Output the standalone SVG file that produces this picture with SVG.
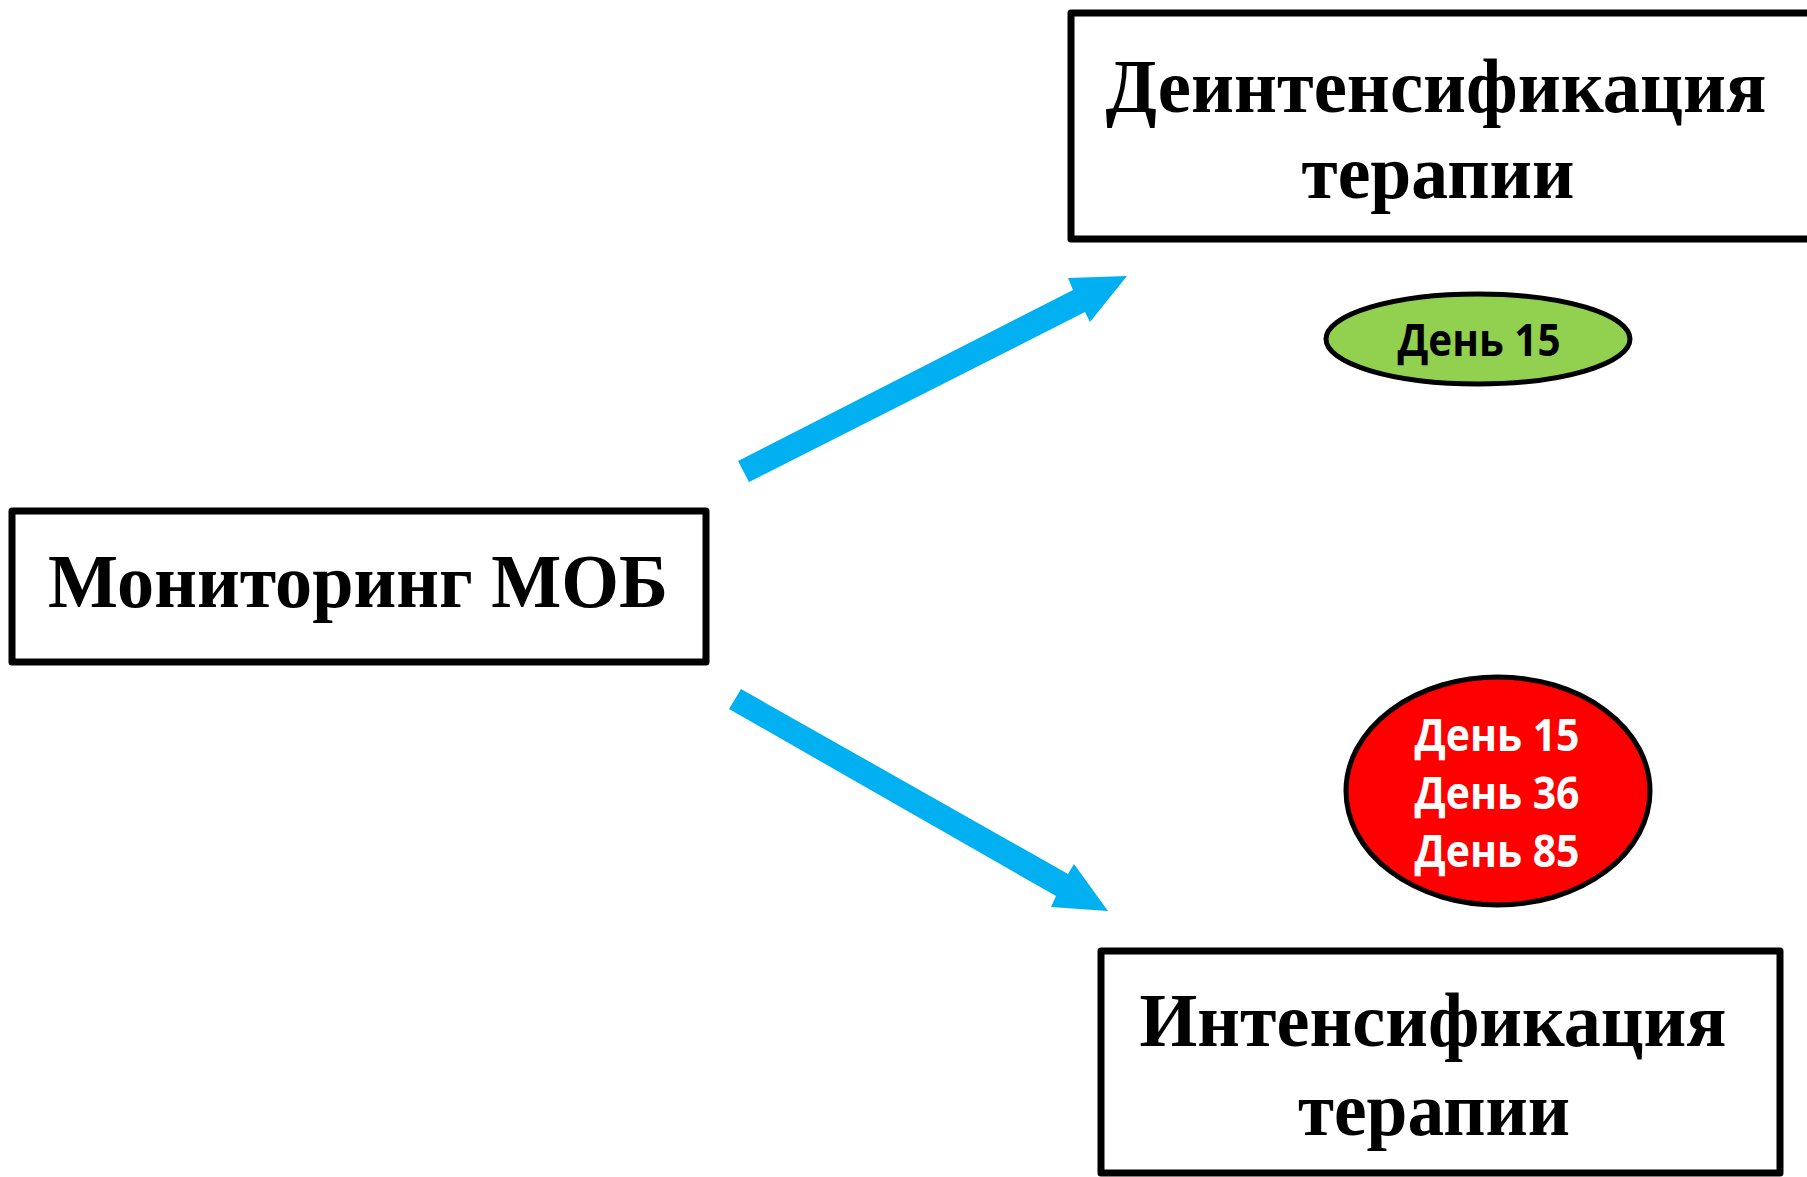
<svg xmlns="http://www.w3.org/2000/svg" width="1807" height="1177" viewBox="0 0 1807 1177">
  <style>
    .box { fill: #ffffff; stroke: #000000; stroke-width: 7; stroke-linejoin: round; }
    .title { font-family: "Liberation Serif", "Times New Roman", serif; font-weight: bold; fill: #000000; text-anchor: middle; }
    .day { font-family: "Open Sans", "Noto Sans", "Liberation Sans", sans-serif; font-weight: bold; text-anchor: middle; font-size: 44px; }
    .arrow { fill: #00B0F0; }
  </style>
  <rect width="1807" height="1177" fill="#ffffff"/>

  <!-- connectors -->
  <g id="connectors">
    <polygon class="arrow" points="738,461 1073,290 1068,278 1127,276 1090,322 1085,312 749,482"/>
    <polygon class="arrow" points="741,689 1068,874 1074,864 1108,911 1051,907 1056,896 729,709"/>
  </g>

  <!-- source -->
  <g id="node-monitoring">
    <rect class="box" x="12" y="511" width="694" height="151"/>
    <text class="title" x="358" y="607" font-size="76" textLength="620" lengthAdjust="spacingAndGlyphs">Мониторинг МОБ</text>
  </g>

  <!-- upper outcome -->
  <g id="node-deintensification">
    <rect class="box" x="1071" y="13" width="760" height="226"/>
    <text class="title" x="1436" y="112" font-size="76" textLength="661" lengthAdjust="spacingAndGlyphs">Деинтенсификация</text>
    <text class="title" x="1438" y="198" font-size="76" textLength="273" lengthAdjust="spacingAndGlyphs">терапии</text>
  </g>

  <g id="node-day-green">
    <ellipse cx="1478" cy="339" rx="152" ry="45" fill="#92D050" stroke="#000000" stroke-width="5"/>
    <text class="day" x="1479" y="356" fill="#000000" textLength="163" lengthAdjust="spacingAndGlyphs">День 15</text>
  </g>

  <!-- lower outcome -->
  <g id="node-day-red">
    <ellipse cx="1498" cy="791" rx="152" ry="114" fill="#FF0000" stroke="#000000" stroke-width="5"/>
    <text class="day" x="1497" y="751" fill="#ffffff" textLength="165" lengthAdjust="spacingAndGlyphs">День 15</text>
    <text class="day" x="1497" y="809" fill="#ffffff" textLength="165" lengthAdjust="spacingAndGlyphs">День 36</text>
    <text class="day" x="1497" y="867" fill="#ffffff" textLength="165" lengthAdjust="spacingAndGlyphs">День 85</text>
  </g>

  <g id="node-intensification">
    <rect class="box" x="1101" y="951" width="679" height="222"/>
    <text class="title" x="1433" y="1046" font-size="76" textLength="587" lengthAdjust="spacingAndGlyphs">Интенсификация</text>
    <text class="title" x="1434" y="1135" font-size="76" textLength="272" lengthAdjust="spacingAndGlyphs">терапии</text>
  </g>
</svg>
